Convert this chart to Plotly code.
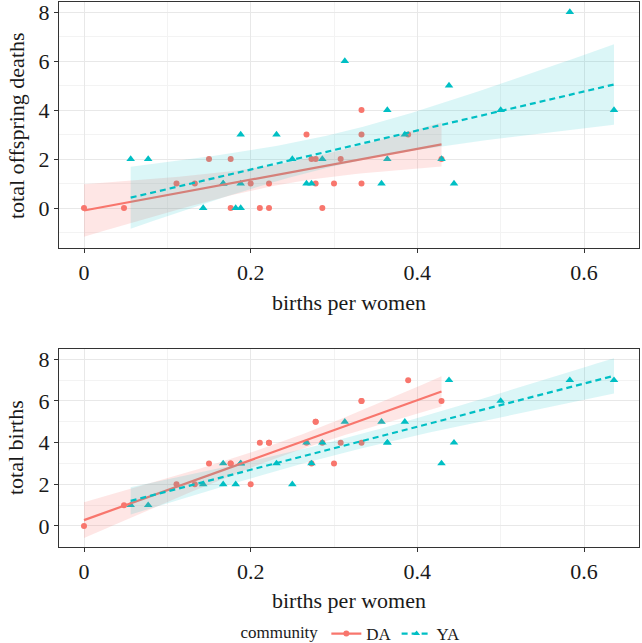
import math
import numpy as np
import plotly.graph_objects as go

# ---------------- data ----------------
# DA community: births per woman, total offspring deaths, total births
da_bpw = [0.0, 0.048, 0.111, 0.133, 0.150, 0.176, 0.176, 0.200, 0.211, 0.222, 0.222,
          0.267, 0.273, 0.278, 0.278, 0.286, 0.300, 0.308, 0.333, 0.333, 0.333, 0.389, 0.429]
da_deaths = [0, 0, 1, 1, 2, 2, 0, 1, 0, 0, 1,
             3, 2, 2, 1, 0, 1, 2, 4, 3, 1, 3, 2]
da_births = [0, 1, 2, 2, 3, 3, 3, 2, 4, 4, 4,
             4, 3, 5, 5, 4, 3, 4, 6, 4, 6, 7, 6]

# YA community
ya_bpw = [0.056, 0.077, 0.143, 0.167, 0.167, 0.182, 0.188, 0.188, 0.188, 0.231, 0.250,
          0.267, 0.273, 0.286, 0.313, 0.357, 0.364, 0.364, 0.385, 0.429, 0.438, 0.444,
          0.500, 0.583, 0.636]
ya_deaths = [2, 2, 0, 1, 1, 0, 0, 1, 3, 3, 2,
             1, 1, 2, 6, 1, 4, 2, 3, 2, 5, 1,
             4, 8, 4]
ya_births = [1, 1, 2, 3, 2, 2, 3, 3, 3, 3, 2,
             4, 3, 4, 5, 5, 4, 4, 5, 3, 7, 4,
             6, 7, 7]

communities = ["DA", "YA"]
colors = {"DA": "#F8766D", "YA": "#00BFC4"}
fills = {"DA": "rgba(248,118,109,0.18)", "YA": "rgba(0,191,196,0.14)"}
symbols = {"DA": "circle", "YA": "triangle-up"}
dashes = {"DA": "solid", "YA": "6px,4px"}

x_title = "births per women"
y_titles = ["total offspring deaths", "total births"]
x_ticks = [0, 0.2, 0.4, 0.6]
x_ticklabels = ["0", "0.2", "0.4", "0.6"]
y_ticks = [0, 2, 4, 6, 8]

FONT = "Liberation Serif, Times New Roman, serif"


def t_crit(df, p=0.975):
    c = math.gamma((df + 1) / 2) / (math.sqrt(df * math.pi) * math.gamma(df / 2))
    pdf = lambda t: c * (1 + t * t / df) ** (-(df + 1) / 2)

    def cdf(t):
        n = 400
        h = t / n
        s = pdf(0) + pdf(t)
        for i in range(1, n):
            s += (4 if i % 2 else 2) * pdf(i * h)
        return 0.5 + s * h / 3

    lo, hi = 0.0, 10.0
    for _ in range(60):
        mid = (lo + hi) / 2
        if cdf(mid) < p:
            lo = mid
        else:
            hi = mid
    return (lo + hi) / 2


def lm_fit(x, y, n_out=80):
    x = np.asarray(x, float)
    y = np.asarray(y, float)
    n = len(x)
    b, a = np.polyfit(x, y, 1)
    resid = y - (a + b * x)
    s = math.sqrt((resid ** 2).sum() / (n - 2))
    xm = x.mean()
    sxx = ((x - xm) ** 2).sum()
    xs = np.linspace(x.min(), x.max(), n_out)
    yh = a + b * xs
    se = s * np.sqrt(1 / n + (xs - xm) ** 2 / sxx)
    t = t_crit(n - 2)
    return xs, yh, yh - t * se, yh + t * se


data = {
    "DA": (da_bpw, [da_deaths, da_births]),
    "YA": (ya_bpw, [ya_deaths, ya_births]),
}

fig = go.Figure()
axes = [("x", "y"), ("x2", "y2")]

for row in range(2):
    xa, ya = axes[row]
    # points
    for com in communities:
        xv, ys = data[com]
        fig.add_trace(go.Scatter(
            x=xv, y=ys[row], mode="markers", xaxis=xa, yaxis=ya,
            marker=dict(color=colors[com], symbol=symbols[com],
                        size=6 if com == "DA" else 7.5, line=dict(width=0)),
            showlegend=False, hoverinfo="skip"))
    # smooths
    for com in communities:
        xv, ys = data[com]
        xs, yh, lo, hi = lm_fit(xv, ys[row])
        fig.add_trace(go.Scatter(
            x=np.concatenate([xs, xs[::-1]]), y=np.concatenate([hi, lo[::-1]]),
            mode="lines", fill="toself", fillcolor=fills[com], line=dict(width=0),
            xaxis=xa, yaxis=ya, showlegend=False, hoverinfo="skip"))
        fig.add_trace(go.Scatter(
            x=xs, y=yh, mode="lines", xaxis=xa, yaxis=ya,
            line=dict(color=colors[com], width=2.2, dash=dashes[com]),
            showlegend=False, hoverinfo="skip"))

# legend entries
for com in communities:
    fig.add_trace(go.Scatter(
        x=[None], y=[None], mode="lines+markers", name=com,
        line=dict(color=colors[com], width=2.2, dash=dashes[com]),
        marker=dict(color=colors[com], symbol=symbols[com], size=6)))

axis_common = dict(
    showline=True, mirror=True, linecolor="#333333", linewidth=1.2,
    ticks="outside", ticklen=4, tickcolor="#333333", tickwidth=1,
    showgrid=True, gridcolor="#E8E8E8", gridwidth=1, automargin=False,
    ticklabeloverflow="allow",
    zeroline=False, tickfont=dict(family=FONT, size=22, color="#1a1a1a"),
)
x_common = dict(axis_common, tickvals=x_ticks, ticktext=x_ticklabels, range=[-0.030, 0.666],
                minor=dict(dtick=0.1, tick0=0, showgrid=True, gridcolor="#F3F3F3", gridwidth=0.6, ticks=""))
y_common = dict(axis_common, tickvals=y_ticks,
                minor=dict(dtick=1, tick0=0, showgrid=True, gridcolor="#F3F3F3", gridwidth=0.6, ticks=""))

H_PLOT_TOP, H_PLOT_BOT = 2, 547
span = H_PLOT_BOT - H_PLOT_TOP


def py2paper(py):
    return (H_PLOT_BOT - py) / span


fig.update_layout(
    width=642, height=643,
    margin=dict(l=59, r=3, t=2, b=96, autoexpand=False),
    paper_bgcolor="white", plot_bgcolor="white",
    font=dict(family=FONT, color="#1a1a1a"),
    xaxis=dict(x_common, anchor="y", domain=[0, 1]),
    yaxis=dict(y_common, anchor="x", domain=[py2paper(248), 1], range=[-1.63, 8.41]),
    xaxis2=dict(x_common, anchor="y2", domain=[0, 1]),
    yaxis2=dict(y_common, anchor="x2", domain=[0, py2paper(349.3)], range=[-1.01, 8.48]),
    showlegend=True,
    legend=dict(orientation="h", x=0.505, xanchor="center", y=py2paper(634), yanchor="middle",
                font=dict(family=FONT, size=17), title=dict(text="community", side="left",
                                                               font=dict(family=FONT, size=17)),
                itemwidth=30, tracegroupgap=0),
)

annotations = [
    dict(text=x_title, xref="paper", yref="paper", x=0.5, y=py2paper(302),
         showarrow=False, font=dict(family=FONT, size=22), xanchor="center", yanchor="middle"),
    dict(text=x_title, xref="paper", yref="paper", x=0.5, y=py2paper(600),
         showarrow=False, font=dict(family=FONT, size=22), xanchor="center", yanchor="middle"),
    dict(text=y_titles[0], xref="paper", yref="paper", x=(16 - 59) / 580, y=py2paper(126),
         showarrow=False, textangle=-90, font=dict(family=FONT, size=22), xanchor="center", yanchor="middle"),
    dict(text=y_titles[1], xref="paper", yref="paper", x=(16 - 59) / 580, y=py2paper(448),
         showarrow=False, textangle=-90, font=dict(family=FONT, size=22), xanchor="center", yanchor="middle"),
]
fig.update_layout(annotations=annotations)

fig.write_html("out.html", config={"displayModeBar": False},
               post_script="document.body.style.margin='0';document.body.style.padding='0';")
